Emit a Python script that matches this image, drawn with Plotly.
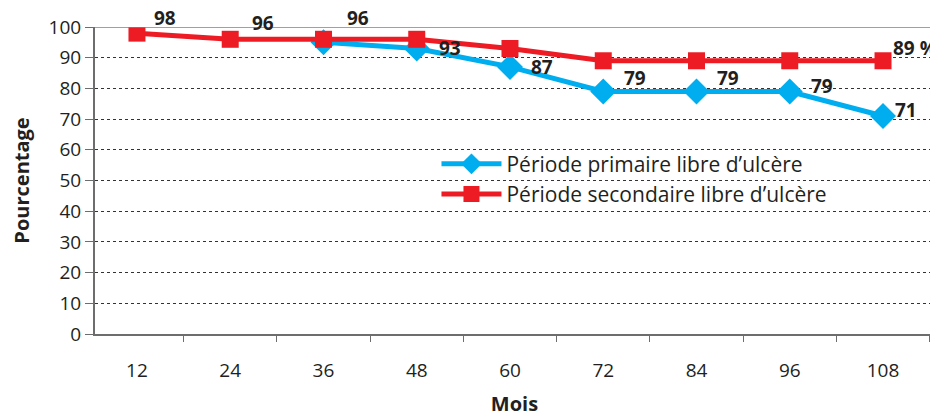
import plotly.graph_objects as go

mois = [12, 24, 36, 48, 60, 72, 84, 96, 108]
primaire = [None, None, 95, 93, 87, 79, 79, 79, 71]
secondaire = [98, 96, 96, 96, 93, 89, 89, 89, 89]
y_ticks = [0, 10, 20, 30, 40, 50, 60, 70, 80, 90, 100]

# labels: (series, index, text, xshift, yshift, xanchor)
labels = [
    (secondaire, 0, "98", 28, 15, "center"),
    (secondaire, 1, "96", 33, 16, "center"),
    (secondaire, 2, "96", 35, 21, "center"),
    (primaire, 3, "93", 33, 0, "center"),
    (primaire, 4, "87", 32, 0, "center"),
    (primaire, 5, "79", 32, 13, "center"),
    (primaire, 6, "79", 31, 13, "center"),
    (primaire, 7, "79", 32, 5, "center"),
    (primaire, 8, "71", 23, 6, "center"),
    (secondaire, 8, "89 %", 8, 13, "left"),
]

FONT = "Open Sans"
TXT = "#231f20"
fig = go.Figure()
fig.add_trace(go.Scatter(
    x=mois, y=primaire, mode="lines+markers", name="Période primaire libre d’ulcère",
    line=dict(color="#00aeef", width=5),
    marker=dict(symbol="diamond", size=20, color="#00aeef"),
))
fig.add_trace(go.Scatter(
    x=mois, y=secondaire, mode="lines+markers", name="Période secondaire libre d’ulcère",
    line=dict(color="#ed1c24", width=5),
    marker=dict(symbol="square", size=17, color="#ed1c24"),
))

for ser, i, txt, xs, ys, xa in labels:
    fig.add_annotation(x=mois[i], y=ser[i], text=f"<b>{txt}</b>", showarrow=False,
                       xshift=xs, yshift=ys, xanchor=xa,
                       font=dict(size=19, color=TXT, family=FONT))

fig.add_shape(type="line", xref="paper", yref="y", x0=0, x1=1, y0=100, y1=100,
              line=dict(color="#808080", width=1.5))

# page has an 8px body margin, so the figure is 8px smaller and offset
fig.update_layout(
    width=930, height=409,
    margin=dict(l=87, r=4, t=19, b=83),
    paper_bgcolor="white", plot_bgcolor="white",
    font=dict(family=FONT, size=19, color=TXT),
    showlegend=True,
    legend=dict(x=0.407, y=0.62, xanchor="left", yanchor="top",
                bgcolor="rgba(0,0,0,0)", font=dict(size=21, family=FONT, color=TXT),
                tracegroupgap=0, itemwidth=60),
    xaxis=dict(range=[6.6, 114.56], tickvals=mois, ticktext=[str(m) for m in mois],
               automargin=False,
               showgrid=False, zeroline=False, ticks="", showline=True,
               linecolor="#6d6d6d", linewidth=2, ticklabelstandoff=18,
               minor=dict(tick0=6, dtick=12, ticks="outside", ticklen=6,
                          tickcolor="#6d6d6d", showgrid=False),
               title=dict(text="<b>Mois</b>", standoff=18, font=dict(size=20))),
    yaxis=dict(range=[0, 100], tickvals=y_ticks, showgrid=True, automargin=False,
               gridcolor="#333333", gridwidth=1, griddash="dot", zeroline=False,
               ticks="outside", ticklen=8, tickcolor="#6d6d6d",
               showline=True, linecolor="#6d6d6d", linewidth=2,
               title=dict(text="<b>Pourcentage</b>", standoff=30, font=dict(size=20))),
)

fig.write_html("out.html")
